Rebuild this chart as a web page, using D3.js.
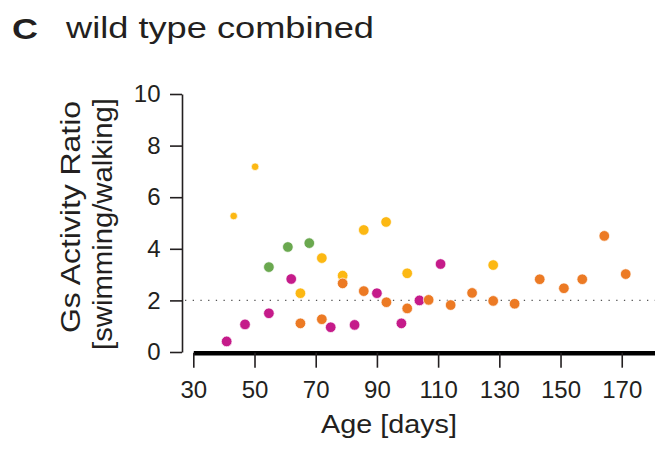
<!DOCTYPE html>
<html><head><meta charset="utf-8">
<script src="https://cdn.jsdelivr.net/npm/d3@7"></script>
<style>
html,body{margin:0;padding:0;background:#fff;}
svg{display:block;font-family:"Liberation Sans",Arial,sans-serif;}
</style></head>
<body>
<svg id="chart" width="655" height="449"></svg>
<script>
// ---- data ----
const xTicks = [30, 50, 70, 90, 110, 130, 150, 170];
const yTicks = [0, 2, 4, 6, 8, 10];
const refLevel = 2;

const yellowSmallAge = [43.2, 50.2];
const yellowSmallRatio = [5.27, 7.18];

const yellowAge   = [65.0, 72.0, 78.8, 85.7, 93.0, 99.9, 128.0];
const yellowRatio = [2.28, 3.64, 2.96, 4.73, 5.04, 3.05, 3.37];

const greenAge   = [54.7, 60.9, 67.9];
const greenRatio = [3.29, 4.07, 4.22];

const magentaAge   = [40.9, 46.9, 54.7, 62.0, 74.9, 82.7, 90.0, 98.0, 103.9, 110.8];
const magentaRatio = [0.41, 1.07, 1.50, 2.83, 0.96, 1.05, 2.28, 1.11, 2.00, 3.41];

const orangeAge   = [65.0, 72.0, 78.8, 85.7, 93.1, 99.9, 106.9, 114.1, 121.1, 128.0, 135.0, 143.2, 151.1, 157.1, 164.3, 171.3];
const orangeRatio = [1.11, 1.27, 2.66, 2.36, 1.93, 1.69, 2.02, 1.82, 2.29, 1.98, 1.87, 2.82, 2.47, 2.82, 4.50, 3.02];

// ---- drawing ----
const svg = d3.select("#chart");
const x = d3.scaleLinear().domain([30, 181]).range([193.3, 655.4]);
const y = d3.scaleLinear().domain([0, 10]).range([352, 94]);
const ink = "#231f20";

// title
svg.append("text").attr("x", 12).attr("y", 38.7).attr("font-size", 30).attr("font-weight", "bold")
  .attr("fill", ink).attr("textLength", 26).attr("lengthAdjust", "spacingAndGlyphs").text("C");
svg.append("text").attr("x", 66).attr("y", 38.3).attr("font-size", 29).attr("fill", ink)
  .attr("textLength", 308).attr("lengthAdjust", "spacingAndGlyphs").text("wild type combined");

// y axis
const yAxis = svg.append("g").attr("transform", "translate(182,0)")
  .call(d3.axisLeft(y).tickValues(yTicks).tickSize(12).tickSizeOuter(0).tickPadding(9.5));
yAxis.select(".domain").attr("stroke", ink).attr("stroke-width", 1.6);
yAxis.selectAll(".tick line").attr("stroke", ink).attr("stroke-width", 1.6);
yAxis.selectAll(".tick text").attr("font-size", 24).attr("fill", ink)
  .attr("font-family", "Liberation Sans, Arial, sans-serif");

// x axis
const xAxis = svg.append("g").attr("transform", "translate(0,352.7)")
  .call(d3.axisBottom(x).tickValues(xTicks).tickSize(15).tickSizeOuter(0).tickPadding(13));
xAxis.select(".domain").attr("stroke", "#000").attr("stroke-width", 4.5);
xAxis.selectAll(".tick line").attr("stroke", ink).attr("stroke-width", 1.6);
xAxis.selectAll(".tick text").attr("font-size", 24).attr("fill", ink)
  .attr("font-family", "Liberation Sans, Arial, sans-serif");

// axis titles
svg.append("text").attr("x", 321).attr("y", 432.7)
  .attr("font-size", 25).attr("fill", ink)
  .attr("textLength", 136).attr("lengthAdjust", "spacingAndGlyphs").text("Age [days]");
const yt = svg.append("g").attr("transform", "rotate(-90)");
yt.append("text").attr("x", -333).attr("y", 79.5)
  .attr("font-size", 27).attr("fill", ink)
  .attr("textLength", 232).attr("lengthAdjust", "spacingAndGlyphs").text("Gs Activity Ratio");
yt.append("text").attr("x", -350).attr("y", 111.5)
  .attr("font-size", 27).attr("fill", ink)
  .attr("textLength", 252).attr("lengthAdjust", "spacingAndGlyphs").text("[swimming/walking]");

// reference line
svg.append("line").attr("x1", 185).attr("x2", 655).attr("y1", y(refLevel)).attr("y2", y(refLevel))
  .attr("stroke", "#555").attr("stroke-width", 1.3).attr("stroke-dasharray", "1.3,6.4");

// points
function dots(ages, ratios, color, r) {
  svg.append("g").selectAll("circle").data(ages).join("circle")
    .attr("cx", (d) => x(d)).attr("cy", (d, i) => y(ratios[i]))
    .attr("r", r).attr("fill", color).attr("stroke", "#fff").attr("stroke-width", 0.7);
}
dots(yellowSmallAge, yellowSmallRatio, "#fcb813", 3.8);
dots(yellowAge, yellowRatio, "#fcb813", 5.3);
dots(greenAge, greenRatio, "#6aa84f", 5.3);
dots(magentaAge, magentaRatio, "#c51b8a", 5.3);
dots(orangeAge, orangeRatio, "#ec7a24", 5.3);
</script>
</body></html>
